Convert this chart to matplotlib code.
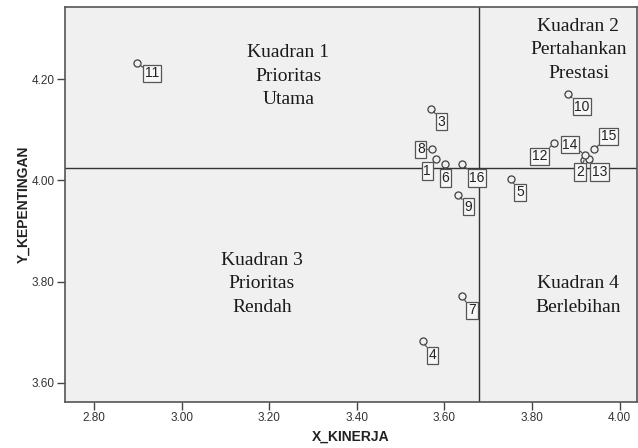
import matplotlib
matplotlib.use("Agg")
import matplotlib.pyplot as plt
import numpy as np

# attribute numbers with their performance (X) and importance (Y) means
labels = ["1", "2", "3", "4", "5", "6", "7", "8",
          "9", "10", "11", "12", "13", "14", "15", "16"]
x_kinerja = [3.581, 3.919, 3.570, 3.550, 3.752, 3.602, 3.640, 3.571,
             3.631, 3.882, 2.898, 3.850, 3.931, 3.921, 3.941, 3.640]
y_kepentingan = [4.042, 4.040, 4.142, 3.682, 4.002, 4.032, 3.771, 4.061,
                 3.972, 4.171, 4.231, 4.073, 4.042, 4.051, 4.061, 4.032]

# label offsets in pixels (dx, dy; dy positive = down) as placed in the original
label_offsets = {
    "1": (-9, 12), "2": (-4, 12), "3": (10, 13), "4": (10, 14),
    "5": (9, 13), "6": (0, 14), "7": (10, 14), "8": (-11, 0),
    "9": (10, 12), "10": (14, 13), "11": (15, 10), "12": (-14, 13),
    "13": (10, 13), "14": (-15, -10), "15": (15, -13), "16": (15, 14),
}

quadrants = [
    ("Kuadran 1\nPrioritas\nUtama", 3.243, 4.206),
    ("Kuadran 2\nPertahankan\nPrestasi", 3.906, 4.258),
    ("Kuadran 3\nPrioritas\nRendah", 3.183, 3.796),
    ("Kuadran 4\nBerlebihan", 3.906, 3.772),
]

fig = plt.figure(figsize=(6.38, 4.48), dpi=100, facecolor="white")
ax = fig.add_axes([0.1019, 0.1027, 0.8966, 0.881])
ax.set_facecolor("#f0f0f0")

ax.scatter(x_kinerja, y_kepentingan, s=26, facecolor="#f0f0f0",
           edgecolor="#404040", lw=0.9, zorder=3)

for lab, x, y in zip(labels, x_kinerja, y_kepentingan):
    dx, dy = label_offsets[lab]
    ax.annotate(lab, (x, y), xytext=(dx, -dy), textcoords="offset pixels",
                ha="center", va="center", fontsize=10,
                family="Liberation Sans", color="#222222", zorder=4,
                bbox=dict(boxstyle="square,pad=0.12", fc="#f7f7f7",
                          ec="#555555", lw=0.9),
                arrowprops=dict(arrowstyle="-", color="#555555", lw=0.9,
                                shrinkA=0, shrinkB=2.6))

# reference lines at the means
ax.axvline(np.mean(x_kinerja), color="#333333", lw=1.0, zorder=2)
ax.axhline(np.mean(y_kepentingan), color="#333333", lw=1.0, zorder=2)

for txt, qx, qy in quadrants:
    ax.text(qx, qy, txt, ha="center", va="center", fontsize=14,
            family="Liberation Serif", color="#1a1a1a", linespacing=1.5)

ax.set_xlim(2.733, 4.040)
ax.set_ylim(3.562, 4.342)
ax.set_xticks([2.8, 3.0, 3.2, 3.4, 3.6, 3.8, 4.0])
ax.set_yticks([3.6, 3.8, 4.0, 4.2])
ax.xaxis.set_major_formatter(plt.FormatStrFormatter("%.2f"))
ax.yaxis.set_major_formatter(plt.FormatStrFormatter("%.2f"))
ax.tick_params(direction="out", length=5.5, width=1, color="#444444",
               labelsize=8.5, labelcolor="#333333", pad=2)
for lab in ax.get_xticklabels() + ax.get_yticklabels():
    lab.set_family("Liberation Sans")
for spine in ax.spines.values():
    spine.set_color("#555555")
    spine.set_linewidth(1.2)

ax.set_xlabel("X_KINERJA", fontsize=10, fontweight="bold",
              family="Liberation Sans", color="#222222", labelpad=4)
ax.set_ylabel("Y_KEPENTINGAN", fontsize=10, fontweight="bold",
              family="Liberation Sans", color="#222222", labelpad=1)

fig.savefig("out.png", dpi=100)
